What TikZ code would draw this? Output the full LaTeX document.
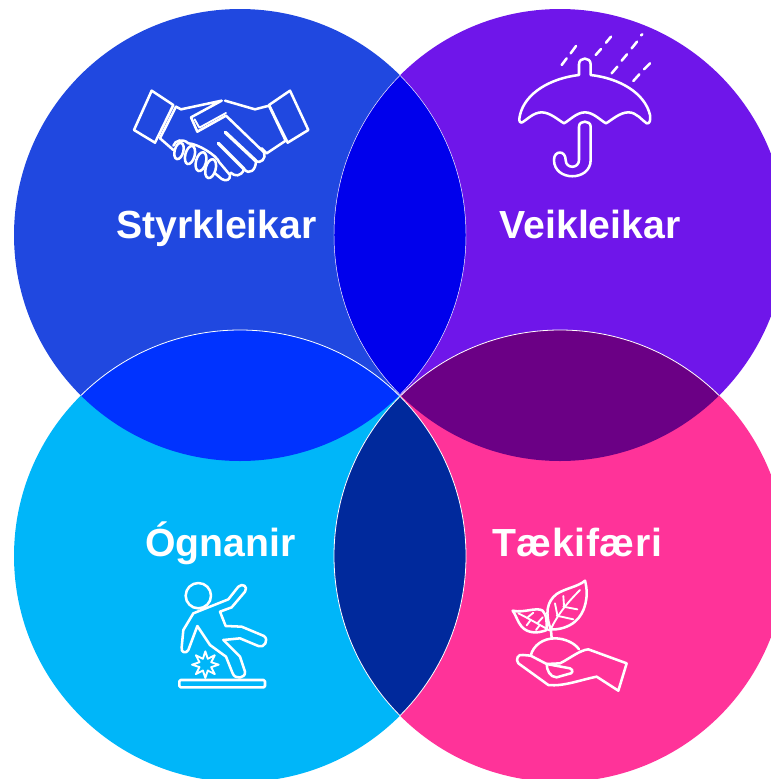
\documentclass[tikz,border=0pt]{standalone}
\usepackage{fontspec}
\setmainfont{Liberation Sans}
\usetikzlibrary{shapes.geometric}
\definecolor{strongblue}{HTML}{2048E0}
\definecolor{weakviolet}{HTML}{6F16EA}
\definecolor{threatcyan}{HTML}{00B6F9}
\definecolor{chancepink}{HTML}{FF3399}
\definecolor{topmix}{HTML}{0000EC}
\definecolor{leftmix}{HTML}{0033FF}
\definecolor{rightmix}{HTML}{6B0085}
\definecolor{bottommix}{HTML}{00299C}
\def\rad{169.5pt}
\tikzstyle{title}=[text=white,font=\fontsize{29.4}{29.4}\selectfont\bfseries,anchor=base]
\tikzstyle{icon}=[draw=white,line width=1.9pt,line join=round,line cap=round]
\tikzstyle{vein}=[line width=1.4pt]
\tikzstyle{thinedge}=[draw=white,line width=.35pt]
\tikzstyle{whiteedge}=[draw=white,line width=.6pt]
\begin{document}
\begin{tikzpicture}[x=.75pt,y=-.75pt]
  \path[use as bounding box,clip] (0,0) rectangle (771,779);
  \coordinate (tl) at (240,235);
  \coordinate (tr) at (560,235);
  \coordinate (bl) at (240,556);
  \coordinate (br) at (560,556);

  \fill[strongblue] (tl) circle (\rad);
  \fill[weakviolet] (tr) circle (\rad);
  \fill[threatcyan] (bl) circle (\rad);
  \fill[chancepink] (br) circle (\rad);

  \begin{scope}
    \clip (tl) circle (\rad);
    \fill[topmix] (tr) circle (\rad);
    \fill[leftmix] (bl) circle (\rad);
    \draw[thinedge] (tr) circle (\rad);
    \draw[whiteedge] (bl) circle (\rad);
  \end{scope}
  \begin{scope}
    \clip (tr) circle (\rad);
    \fill[rightmix] (br) circle (\rad);
    \draw[thinedge] (tl) circle (\rad);
    \draw[whiteedge] (br) circle (\rad);
  \end{scope}
  \begin{scope}
    \clip (bl) circle (\rad);
    \fill[bottommix] (br) circle (\rad);
    \draw[whiteedge] (br) circle (\rad);
  \end{scope}
  \begin{scope}
    \clip (br) circle (\rad);
    \draw[whiteedge] (bl) circle (\rad);
  \end{scope}

  \node[title] (strengths) at (216.5,238) {Styrkleikar};
  \node[title] (weaknesses) at (590,238) {Veikleikar};
  \node[title] (threats) at (220.5,556) {Ógnanir};
  \node[title] (chances) at (577.5,556) {T\kern-.4pt æ\kern.9pt k\kern.4pt i\kern.3pt f\kern.3pt æ\kern.9pt r\kern.2pt i};

  \begin{scope}[shift={(120,75)},x=.25pt,y=-.25pt,icon]
    \draw (95,47) -- (160,90) -- (105,203) -- (42,165) -- cycle;
    \draw (510,47) -- (447,90) -- (503,203) -- (565,165) -- cycle;
    \draw (168,95) -- (120,190) -- (160,225);
    \draw (168,95) -- (183,103) -- (305,77) -- (213,127) -- (232,170) -- (318,122) -- (432,232);
    \draw (315,77) -- (405,103) -- (447,92) -- (497,197) -- (440,235) -- (425,220);
    \draw[vein] (224,133) -- (238,158) -- (318,114);
    \draw[line width=2.6pt] (316,172) -- (408,258);
    \draw[line width=2.6pt] (295,205) -- (372,282);
    \draw (432,232) .. controls (440,250) and (422,268) .. (405,258);
    \draw (408,258) .. controls (408,285) and (388,302) .. (372,282);
    \draw (372,284) .. controls (362,305) and (345,305) .. (332,293);
    \draw (160,212) .. controls (165,195) and (190,190) .. (205,205)
       .. controls (230,205) and (290,240) .. (298,262) -- (330,300)
       .. controls (332,315) and (318,320) .. (305,312) -- (285,295);
    \draw[rotate around={-15:(177,228)}] (177,228) ellipse [x radius=13,y radius=25];
    \draw[rotate around={-15:(210,240)}] (210,240) ellipse [x radius=14,y radius=28];
    \draw[rotate around={-15:(243,260)}] (243,260) ellipse [x radius=15,y radius=29];
    \draw[rotate around={-15:(272,281)}] (272,281) ellipse [x radius=15,y radius=29];
  \end{scope}

  \begin{scope}[shift={(500,25)},x=.25pt,y=-.25pt,icon]
    \draw (65,293) .. controls (55,293) and (58,280) .. (60,270) .. controls (75,205) and (150,160) .. (237,150)
       -- (237,118) .. controls (237,95) and (272,95) .. (272,118) -- (272,150)
       .. controls (360,160) and (435,205) .. (450,270) .. controls (452,285) and (450,297) .. (440,295)
       .. controls (425,285) and (410,262) .. (385,262) .. controls (360,262) and (335,285) .. (318,295)
       .. controls (300,285) and (280,262) .. (255,262) .. controls (230,262) and (210,285) .. (192,295)
       .. controls (175,285) and (150,262) .. (125,262) .. controls (100,262) and (80,285) .. (65,293);
    \draw (237,305) .. controls (237,285) and (272,285) .. (272,305) -- (272,405)
       .. controls (272,470) and (162,470) .. (162,405) .. controls (162,375) and (197,375) .. (197,405)
       .. controls (197,432) and (237,432) .. (237,405) -- cycle;
    \draw (185,120) -- (200,100) (212,85) -- (228,63) (287,90) -- (303,72) (318,53) -- (333,35)
       (335,145) -- (352,125) (365,107) -- (381,88) (395,70) -- (411,50) (423,31) -- (427,28)
       (400,168) -- (418,148) (432,133) -- (450,115);
  \end{scope}

  \begin{scope}[shift={(160,570)},x=.25pt,y=-.25pt,icon]
    \draw (115,77) circle (9.5pt);
    \draw (100,130) -- (205,88) -- (235,50) .. controls (248,38) and (265,50) .. (255,65) -- (215,112) -- (180,125)
       -- (197,168) -- (245,170) -- (312,198) .. controls (328,210) and (312,236) .. (295,228) -- (240,205) -- (190,210)
       -- (240,260) -- (255,305) .. controls (258,325) and (225,330) .. (218,310) -- (198,260) -- (150,225)
       -- (112,168) -- (85,240) .. controls (78,252) and (62,248) .. (65,232) -- (70,180) -- cycle;
    \node[star,star points=8,star point ratio=2.1,draw=white,line width=1.4pt,inner sep=0pt,minimum size=20pt] (impact) at (136,284) {};
    \draw[rounded corners=1pt] (58,330) rectangle (315,352);
  \end{scope}

  \begin{scope}[shift={(500,570)},x=.25pt,y=-.25pt,icon]
    \draw (152,178) .. controls (135,130) and (140,95) .. (170,72) .. controls (195,55) and (235,50) .. (255,32)
       .. controls (268,80) and (255,130) .. (225,155) .. controls (205,172) and (175,180) .. (152,178);
    \draw[vein] (152,178) .. controls (175,130) and (205,95) .. (240,60);
    \draw[vein] (172,135) -- (165,100) (192,108) -- (190,78) (170,137) -- (220,148) (190,110) -- (232,118);
    \draw (38,122) .. controls (70,130) and (110,110) .. (128,122) .. controls (142,135) and (140,165) .. (140,180)
       .. controls (115,190) and (85,192) .. (65,170) .. controls (52,155) and (48,135) .. (38,122);
    \draw[vein] (55,130) .. controls (85,145) and (120,165) .. (150,182);
    \draw[vein] (82,143) -- (100,128) (112,160) -- (128,142) (92,150) -- (80,166) (118,167) -- (108,180);
    \draw (153,180) -- (155,205);
    \draw (92,257) .. controls (100,225) and (130,205) .. (165,205) .. controls (195,205) and (225,220) .. (237,238);
    \draw (92,257) -- (140,282) -- (180,280) .. controls (210,265) and (240,240) .. (265,238) -- (380,280) -- (355,362) -- (290,320)
       .. controls (240,330) and (190,350) .. (145,345) -- (55,280) .. controls (45,268) and (55,250) .. (70,255) -- (92,257);
    \draw (140,282) -- (210,295) .. controls (222,300) and (218,312) .. (205,312) -- (170,322)
       .. controls (150,322) and (140,300) .. (140,282);
  \end{scope}
\end{tikzpicture}
\end{document}
